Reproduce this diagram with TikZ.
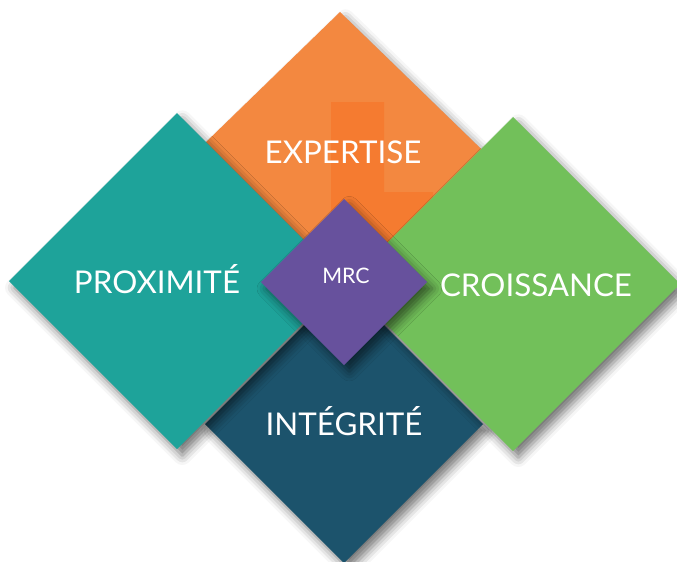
\documentclass[tikz,border=0pt]{standalone}
\usepackage{fontspec}
\setmainfont{Lato}
\usetikzlibrary{shadows.blur}

\definecolor{expOrange}{RGB}{243,136,64}
\definecolor{expOrangeL}{RGB}{245,123,48}
\definecolor{proxTeal}{RGB}{30,163,154}
\definecolor{croiGreen}{RGB}{114,192,90}
\definecolor{integBlue}{RGB}{28,83,108}
\definecolor{mrcPurple}{RGB}{103,81,157}

\tikzset{
  losange/.style={blur shadow={shadow xshift=4pt,shadow yshift=-5pt,shadow blur radius=7pt,shadow opacity=55}},
  valeur/.style={text=white,font=\fontsize{23.5}{28}\selectfont,inner sep=0.75pt},
}

\begin{document}
\begin{tikzpicture}[x=0.75pt,y=0.75pt,yscale=-1,xscale=1]
\useasboundingbox (0,0) rectangle (677,561);

%Shape: Diamond [id:expertise]
\fill [expOrange,losange] (340,12) -- (510,177) -- (340,342) -- (170,177) -- cycle ;
%Shape: L inside the orange diamond
\begin{scope}
\clip (340,12) -- (510,177) -- (340,342) -- (170,177) -- cycle ;
\fill [expOrangeL] (331,102) -- (384,102) -- (384,192) -- (433,192) -- (433,320) -- (331,320) -- cycle ;
\end{scope}
%Shape: Diamond [id:integrite]
\fill [integBlue,losange] (344,285) -- (483,424) -- (344,563) -- (205,424) -- cycle ;
%Shape: Diamond [id:proximite]
\fill [proxTeal,losange] (177,113) -- (345,281) -- (177,449) -- (9,281) -- cycle ;
%Shape: Diamond [id:croissance]
\fill [croiGreen,losange] (513,117) -- (680,284) -- (513,451) -- (346,284) -- cycle ;
%Shape: Diamond [id:mrc]
\fill [mrcPurple,losange] (344,199) -- (427,282) -- (344,365) -- (261,282) -- cycle ;

% Text Node
\draw (343,163) node [anchor=base][valeur] (expertise) {EXPERTISE};
% Text Node
\draw (157,293) node [anchor=base][valeur] (proximite) {PROXIMITÉ};
% Text Node
\draw (536,296) node [anchor=base][valeur] (croissance) {CROISSANCE};
% Text Node
\draw (344,435) node [anchor=base][valeur] (integrite) {INTÉGRITÉ};
% Text Node
\draw (346,283) node [anchor=base][valeur,font=\fontsize{16}{19}\selectfont] (mrc) {MRC};

\end{tikzpicture}
\end{document}
